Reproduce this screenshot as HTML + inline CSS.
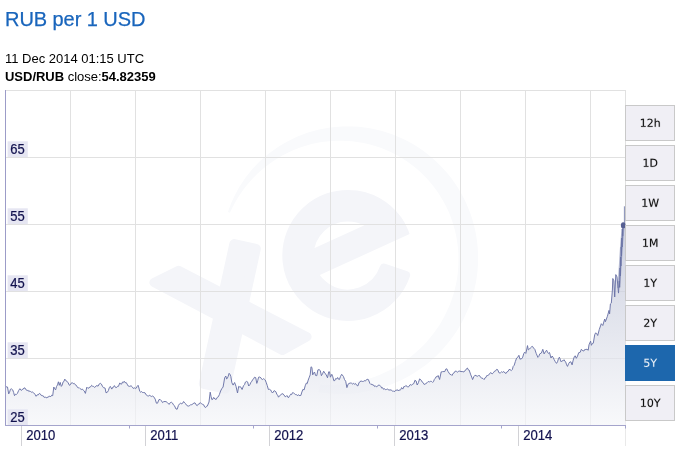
<!DOCTYPE html>
<html><head><meta charset="utf-8">
<style>
html,body{margin:0;padding:0;background:#fff;}
body{width:691px;height:454px;overflow:hidden;position:relative;font-family:"Liberation Sans",sans-serif;}
.t{position:absolute;left:5.4px;top:7px;font-size:20px;line-height:24px;color:#1965bc;white-space:nowrap;letter-spacing:-0.06px;transform:translateY(0.4px);will-change:transform;-webkit-text-stroke:0.25px #1965bc;}
.d{position:absolute;left:5.4px;top:50px;font-size:13px;line-height:16px;color:#000;white-space:nowrap;letter-spacing:-0.01px;transform:translateY(0.65px);will-change:transform;}
.c{position:absolute;left:5.4px;top:68px;font-size:13px;line-height:16px;color:#000;white-space:nowrap;letter-spacing:-0.02px;transform:translateY(0.7px);will-change:transform;}
svg{position:absolute;left:0;top:0;}
.ax{font-family:"Liberation Sans",sans-serif;font-size:13px;fill:#12124e;stroke:#12124e;stroke-width:0.2px;}
</style></head><body>
<div class="t">RUB per 1 USD</div>
<div class="d">11 Dec 2014 01:15 UTC</div>
<div class="c"><b>USD/RUB</b> close:<b>54.82359</b></div>
<svg width="691" height="454" viewBox="0 0 691 454">
<defs>
<linearGradient id="ag" x1="0" y1="225" x2="0" y2="425" gradientUnits="userSpaceOnUse">
<stop offset="0" stop-color="#babfd4"/>
<stop offset="1" stop-color="#f5f6f9"/>
</linearGradient>
</defs>
<defs>
<clipPath id="ec"><circle cx="347.8" cy="255.5" r="65.5"/></clipPath>
</defs>
<g fill="#f4f5f9" stroke="#f4f5f9" stroke-linejoin="round">
<polygon stroke-width="9.0" points="178.6,270.2 307.1,336.8 282.4,350.5 153.9,282.5"/>
<polygon stroke-width="10" points="234.3,244.1 255.8,248.8 225.3,388.5 203.8,383.8"/>
<path d="M406.1 275.1 A61.5 61.5 0 1 1 401.1 224.7 L380.7 236.5 A38 38 0 1 0 383.8 267.6 Z" stroke-width="8"/>
</g>
<g fill="#f4f5f9">
<polygon clip-path="url(#ec)" points="298.3,255.4 412.1,203.6 423.1,227.9 309.4,279.7"/>
</g>
<path fill="#f9fafc" d="M227.9 212.1 L229.7 206.9 L231.8 201.8 L234.1 196.8 L236.6 191.9 L239.3 187.0 L242.3 182.4 L245.4 177.8 L248.8 173.4 L252.4 169.1 L256.2 165.0 L260.1 161.1 L264.3 157.3 L268.6 153.7 L273.1 150.4 L277.7 147.2 L282.5 144.2 L287.4 141.4 L292.4 138.9 L297.5 136.5 L302.8 134.4 L308.1 132.6 L313.6 130.9 L319.1 129.6 L324.6 128.4 L330.2 127.5 L335.9 126.9 L341.6 126.5 L347.3 126.4 L353.0 126.5 L358.7 126.8 L364.4 127.5 L370.0 128.3 L375.6 129.5 L381.2 130.8 L386.7 132.4 L392.1 134.3 L397.4 136.4 L402.7 138.7 L407.8 141.3 L412.8 144.1 L417.7 147.1 L422.5 150.3 L427.1 153.7 L431.6 157.4 L435.9 161.2 L440.0 165.2 L444.0 169.4 L447.8 173.8 L451.4 178.3 L454.7 183.0 L457.9 187.8 L460.9 192.8 L463.6 197.9 L466.1 203.1 L468.4 208.4 L470.5 213.8 L472.3 219.3 L473.9 224.9 L475.2 230.5 L476.3 236.2 L477.1 241.9 L477.7 247.7 L478.0 253.5 L478.1 259.3 L477.9 265.1 L477.5 270.9 L476.8 276.7 L475.9 282.4 L474.7 288.1 L473.3 293.8 L471.7 299.4 L469.8 304.9 L467.6 310.3 L465.2 315.6 L462.6 320.9 L459.8 326.0 L456.8 331.0 L453.5 335.8 L450.0 340.5 L446.3 345.1 L442.5 349.5 L438.4 353.7 L434.2 357.8 L429.8 361.7 L425.2 365.4 L420.4 368.8 L415.6 372.1 L410.5 375.2 L405.4 378.1 L400.1 380.7 L394.7 383.1 L389.2 385.3 L383.6 387.2 L377.9 389.0 L372.1 390.4 L366.3 391.6 L360.5 392.6 L354.5 393.3 L348.6 393.8 L342.6 394.0 L336.6 394.0 L330.6 393.7 L324.7 393.1 L318.7 392.3 L320.1 384.8 L325.9 385.0 L331.5 385.0 L337.2 384.7 L342.8 384.3 L348.3 383.5 L353.7 381.7 L359.1 380.5 L364.4 379.8 L369.7 378.5 L374.9 376.8 L379.9 374.8 L384.8 372.6 L389.6 370.3 L394.3 367.8 L398.9 365.1 L403.3 362.2 L407.6 359.1 L411.7 356.0 L415.7 352.6 L419.6 349.1 L423.3 345.5 L426.8 341.7 L430.1 337.8 L433.3 333.8 L436.3 329.6 L439.2 325.4 L441.8 321.1 L444.3 316.6 L446.5 312.1 L448.6 307.5 L450.5 302.9 L452.2 298.1 L453.7 293.4 L455.0 288.5 L456.1 283.7 L457.0 278.8 L457.7 273.8 L458.1 268.9 L458.4 263.9 L458.5 259.0 L458.4 254.0 L458.1 249.1 L457.5 244.2 L456.8 239.3 L455.9 234.4 L454.7 229.6 L453.4 224.9 L451.9 220.2 L450.2 215.6 L448.3 211.0 L446.2 206.6 L443.9 202.2 L441.4 197.9 L438.8 193.7 L436.0 189.7 L433.0 185.7 L429.9 181.9 L426.6 178.2 L423.1 174.7 L419.5 171.3 L415.8 168.0 L411.9 164.9 L407.9 162.0 L403.7 159.2 L399.5 156.6 L395.1 154.2 L390.7 152.0 L386.1 150.0 L381.4 148.1 L376.7 146.5 L371.9 145.0 L367.0 143.8 L362.1 142.7 L357.1 141.9 L352.1 141.3 L347.0 140.9 L342.0 140.7 L336.9 140.7 L331.8 140.9 L326.7 141.4 L321.6 142.1 L316.6 143.0 L311.6 144.1 L306.6 145.4 L301.7 147.0 L296.8 148.8 L292.0 150.7 L287.3 152.9 L282.7 155.3 L278.2 157.9 L273.8 160.7 L269.5 163.7 L265.3 166.9 L261.3 170.3 L257.4 173.8 L253.6 177.6 L250.0 181.4 L246.6 185.5 L243.3 189.7 L240.3 194.1 L237.4 198.6 L234.7 203.2 L232.2 208.0 L229.9 212.8 Z"/>
<g fill="#e1e1e1">
<rect x="6" y="90" width="620" height="1"/>
<rect x="625" y="91" width="1" height="330"/><rect x="625" y="421" width="1" height="25" fill="#e9e9e9"/>
<rect x="70" y="90" width="1" height="335" />
<rect x="135" y="90" width="1" height="335" />
<rect x="200" y="90" width="1" height="335" />
<rect x="265" y="90" width="1" height="335" />
<rect x="330" y="90" width="1" height="335" />
<rect x="395" y="90" width="1" height="335" />
<rect x="460" y="90" width="1" height="335" />
<rect x="525" y="90" width="1" height="335" />
<rect x="590" y="90" width="1" height="335" />
<rect x="6" y="157" width="619" height="1" />
<rect x="6" y="224" width="619" height="1" />
<rect x="6" y="291" width="619" height="1" />
<rect x="6" y="358" width="619" height="1" />
</g>
<path d="M5.5 385.8 L6.5 387.1 L7.5 387 L8.7 393.9 L9.6 392.2 L10.4 389.3 L11.6 388.9 L12.7 389.9 L13.6 392.4 L14.5 395.7 L15.5 394.2 L16.4 394.5 L17.4 393.4 L18.6 390.6 L19.9 388.7 L21.4 390.5 L22.3 389.3 L23.1 389.3 L24 387.9 L25.1 388.1 L26.1 389.9 L27.2 390.5 L28.1 390.2 L28.9 391.6 L29.8 391 L30.7 391.6 L31.7 392.3 L32.6 392 L33.6 392.8 L34.9 394.2 L36.1 396.3 L37.2 394.8 L38.3 394.9 L39.4 393.4 L40.3 393.9 L41.3 395.5 L42.2 395.7 L43.2 395.8 L44.2 397.4 L45.3 397.1 L46.3 398 L47.2 397 L48 397.6 L48.9 396.2 L49.8 396.3 L50.8 396.6 L51.7 395.2 L52.7 395.7 L53.8 387 L54.7 388.8 L55.6 389.9 L56.5 386.6 L57.5 384.9 L58.4 381.8 L59.3 385.3 L60.2 382.4 L61.3 386.4 L62.2 385.1 L63 382.1 L63.9 381.5 L64.8 379.1 L65.8 380.7 L66.9 381.2 L68.2 382.9 L69.4 385.3 L70.4 384.7 L71.3 383.1 L72.3 382.6 L73.3 383.8 L74.2 383.3 L75.2 384.7 L76.2 385.2 L77.3 387 L78.3 388 L79.2 387.7 L80.2 388.7 L81.2 389.6 L82.1 389 L83.1 389.9 L84.2 390.9 L85.4 393.4 L86.8 387.2 L87.8 388.2 L88.9 388.1 L89.8 386.9 L90.7 386.8 L91.6 385.3 L92.5 386.2 L93.5 386.4 L94.4 387.4 L95.3 387 L96.4 385.6 L98.1 386.1 L99.3 383.9 L100.3 383.3 L101.4 384.1 L102.4 386.2 L103.4 387.6 L105.1 388.1 L106 392.8 L107.4 392.2 L108.4 390.5 L109.3 387.7 L110.3 386.4 L111.8 389.1 L112.7 387.3 L113.5 387.2 L114.4 385.6 L115.7 387.6 L116.6 387.5 L117.5 386.3 L118.4 386.4 L119.8 382.9 L120.7 384.1 L121.6 384.1 L122.5 382 L123.3 382.6 L124.2 381.2 L125.2 382.8 L126.1 382.4 L127.1 384.1 L128.2 386 L129.4 386.4 L131.1 385.8 L132.2 386.8 L133.4 388.5 L134.4 387.8 L135.3 388.5 L136.3 388.1 L137.2 386.3 L138.1 385.3 L138.9 388 L139.8 391.4 L140.7 392.2 L141.6 391.5 L142.4 392.5 L143.3 392.5 L145 392.8 L146.2 394.9 L147.3 395.7 L148.3 396.1 L149.2 395.3 L150.2 395.7 L151.3 396.5 L152.4 396 L153.5 396.5 L155.2 399.1 L156.4 403.2 L157.5 403.2 L159 399.5 L160.4 399.7 L161.4 400.7 L162.5 402.6 L163.8 401.6 L165 401.5 L166.2 401.7 L167.4 402.6 L169.1 404.4 L170.3 402.6 L171.6 402.3 L172.5 403.1 L173.4 404.8 L174.3 405.5 L176 409 L177.2 409.2 L178.4 405.5 L179.6 403.8 L180.7 403.2 L181.8 403.8 L182.7 403.2 L183.6 401.5 L184.8 403.1 L185.9 404.1 L187.2 405.8 L188.4 406.1 L189.4 405.9 L190.5 404.7 L191.7 404.7 L192.8 404.1 L193.9 402.9 L195.1 403 L196.1 404.8 L197.2 405.7 L198.2 404.2 L199.3 404 L200.3 402.6 L201.5 403.8 L202.7 404.4 L203.7 404.8 L204.6 406.9 L205.6 407.6 L206.4 406.3 L207.3 406.1 L209 402 L210.2 392.2 L211.1 396.7 L211.9 399.7 L212.8 399.2 L213.7 397.4 L214.9 399 L216.2 399.4 L217.2 397.4 L218.3 396.8 L219.4 394.5 L220.6 391 L221.8 388.7 L223.1 387 L224.7 377.7 L225.8 376 L226.6 378.9 L227.1 378.7 L228.1 376.6 L229.1 373.3 L229.9 374.2 L230.8 376.4 L231.9 382.8 L233.1 385.1 L234.6 382.5 L236 386.3 L237.5 393 L238.7 386.3 L239.6 386.9 L240.6 386.8 L242.1 389.5 L243.5 385.7 L244.5 384.7 L245.4 382.1 L246.4 381.4 L247.6 381.9 L248.7 386 L249.8 384.8 L251 382.2 L251.9 381.2 L252.8 379.4 L253.6 378.9 L254.5 377.2 L255.7 377.6 L256.8 383.4 L257.7 380.7 L258.6 377.2 L259.8 377 L260.9 377.8 L261.8 379.3 L262.6 379.5 L263.5 378.7 L264.4 379.3 L265.2 380 L266.1 382.2 L267.2 385.4 L268.4 389.5 L269.5 389.3 L270.7 390 L271.6 391.8 L272.5 393 L274.2 390.6 L275.9 391.8 L276.8 394.2 L277.6 395.1 L278.5 397.2 L279.6 395.7 L280.6 395.2 L281.7 393.8 L282.9 393.8 L284 394.9 L284.9 396.5 L285.8 396.7 L286.9 395.5 L288.4 397.8 L289.8 395.5 L290.7 394.2 L291.6 394.6 L292.4 392.8 L293.3 392.6 L294.5 393.9 L295.6 394.6 L296.5 394.6 L297.4 395.7 L298.2 394.7 L299.1 395.5 L300.8 395.5 L301.9 392 L302.9 389.4 L304.1 389.9 L305.2 385.8 L306.4 383 L307.2 383.6 L308.2 380.1 L309.3 377.2 L310.2 374.9 L311 366.8 L311.9 367.4 L312.7 374.9 L313.6 373.1 L314.5 372 L315.6 375.5 L316.8 375.7 L317.9 369.9 L319.1 369.6 L320.3 370.6 L321.4 375.7 L322.5 373.8 L323.7 371.2 L324.9 373.4 L326 374.3 L327.5 377.8 L328.7 371.8 L329.5 371.8 L330.4 377.2 L331.8 374.3 L332.8 376.8 L333.8 380.7 L334.8 380.6 L335.7 378.5 L336.7 379 L337.6 377.5 L338.5 379.2 L339.4 379.5 L340.5 376.4 L341.7 374.3 L343.4 376.4 L344.5 379.5 L345.7 381.3 L346.9 387.6 L347.8 385 L348.6 383.6 L350.3 383 L351.5 383.2 L352.7 384.1 L353.7 383.4 L354.6 384.2 L355.6 383.6 L356.8 385.4 L357.9 385.9 L358.9 383 L360 381.5 L361.2 381.1 L362.5 381.5 L363.4 381.5 L364.2 380.6 L365.1 381.1 L366 380.3 L367.1 379.3 L368.3 379.5 L370 383.6 L371 384.6 L371.9 384 L372.9 385.3 L373.8 385.1 L374.6 386.5 L375.5 385.9 L376.4 386.8 L377.4 386.4 L378.5 385 L379.6 385.2 L380.8 386.5 L381.8 388.2 L382.7 387.7 L383.7 389.4 L384.7 388.7 L385.6 389.7 L386.6 389.4 L387.7 389.1 L388.9 390.1 L390 389.9 L391.2 390 L392.4 391.1 L393.4 390.9 L394.4 391.9 L395.4 390.4 L396.4 390.3 L397.3 389.6 L398.1 390.9 L399 389.9 L399.9 390.3 L400.8 389.6 L401.6 387.6 L402.8 389.1 L403.9 386.5 L404.9 386.7 L405.8 385.5 L406.8 386.1 L407.7 387.1 L408.6 386.8 L410.3 384.5 L411.5 385.3 L412.6 384.1 L413.8 383.6 L414.9 380.3 L416.1 381 L417.2 385 L418.4 382.7 L419.6 378.9 L421.3 380.3 L422.3 382.2 L423.2 382.7 L424.2 384.5 L425.9 383.6 L427 382.8 L428.2 381.5 L429.4 381.9 L430.6 381.3 L431.6 381.4 L432.6 382.4 L433.5 381.6 L434.3 379.5 L435.2 378.4 L436.2 376.7 L437.1 376.8 L438.1 375.5 L439.6 379.5 L441.2 371.8 L442.1 372.1 L443 371.2 L443.9 371.8 L444.9 371.4 L445.8 369.1 L446.8 368.8 L448 371.4 L449.1 373.1 L450.1 374.5 L451 374.4 L452 375.5 L453.1 373.4 L454.1 372.9 L455.2 371.1 L456.4 371.3 L457.5 372.3 L458.6 371.1 L459.8 371.1 L461 371.6 L462.2 371.5 L463.9 372 L464.8 370.6 L465.6 370.3 L466.5 368.7 L467.4 368 L468.2 369.7 L469.1 370 L470.8 374.9 L471.7 377 L472.6 379.6 L473.8 376.7 L474.9 375.3 L476 375.5 L477.2 376.4 L478.4 375.6 L479.5 375.5 L480.6 377.4 L481.8 378.1 L483 378.5 L484.1 379.6 L485 377.8 L485.9 377.5 L486.8 375.5 L487.8 375.5 L488.8 374.9 L490.5 372.6 L492.2 373.8 L493.4 372.8 L494.6 371.1 L495.6 370.9 L496.5 369.4 L497.5 369.5 L499.2 373 L500.4 372.9 L501.5 371.8 L502.6 372.4 L503.8 371.5 L505 373 L506.1 373.4 L507.1 371.7 L508 371.5 L509 369.5 L510.1 369.6 L511.3 370.6 L512.3 369.6 L513.2 366.4 L514.2 365.3 L515.4 361.4 L516.6 358.1 L517.8 357.2 L518.9 355.3 L520 359.3 L520.9 358.7 L521.8 358.7 L522.7 357.2 L523.7 353.8 L524.6 352.2 L525.8 353.4 L526.6 350 L527.5 345.6 L528.3 349.9 L529.3 349.2 L530.4 347.9 L531.5 346.8 L532.5 346.4 L533.6 348.1 L534.8 349.3 L536.2 353.4 L537.9 357.4 L538.8 356.4 L539.7 353.9 L541.4 353 L542.8 349.3 L544.1 353.9 L545.4 351.8 L546.6 350.2 L547.5 352.2 L548.4 353.4 L549.5 352.5 L551 358 L552.2 356 L553.2 357.5 L554.1 359.5 L555.3 361.7 L556.5 363.4 L557.5 361.8 L558.4 358.9 L559.4 357.2 L560.2 359.2 L561.1 361.8 L562.1 360.8 L563 360.9 L564 359.7 L564.9 361.1 L565.7 362 L566.6 364.8 L567.5 366.4 L568.6 363.7 L569.8 362 L570.9 361.8 L572.1 364.9 L573.2 360.1 L574.4 356.5 L575.2 355.8 L576.3 358.3 L577.5 356.1 L578.7 352.7 L580.3 352.2 L581.3 349.3 L582.9 350.8 L583.9 351 L584.8 349.4 L585.8 349.5 L587 349.2 L588.2 350.3 L589 344.8 L590.6 341.1 L591.4 345.3 L592.3 343.5 L593.3 343.2 L594.7 334.8 L595.6 332.9 L596.7 333.5 L597.7 335.5 L599.3 329.4 L601.3 323.7 L602.8 325.5 L604.7 319 L605.4 321.7 L607.4 316.3 L609 310.4 L609.6 313.9 L610.4 303.9 L611.3 303.1 L612.4 290 L612.8 278.5 L613.9 280.8 L614.7 297 L615.8 274.6 L617 276.9 L618.5 293.1 L619.3 281 L619.6 287 L620 268 L620.3 276 L620.6 257 L620.9 266 L621.2 247 L621.5 256 L621.8 238 L622.1 247 L622.4 229 L622.7 236 L623 225 L624.9 225 L625.5 225 L625.5 425.5 L5.5 425.5 Z" fill="url(#ag)" fill-opacity="0.7"/>
<rect x="7.6" y="141.3" width="20.2" height="15.7" fill="#e6e6f2"/>
<text transform="translate(10.3 153.7) scale(1 1.07)" class="ax">65</text>
<rect x="7.6" y="208.3" width="20.2" height="15.7" fill="#e6e6f2"/>
<text transform="translate(10.3 220.7) scale(1 1.07)" class="ax">55</text>
<rect x="7.6" y="275.3" width="20.2" height="15.7" fill="#e6e6f2"/>
<text transform="translate(10.3 287.7) scale(1 1.07)" class="ax">45</text>
<rect x="7.6" y="342.3" width="20.2" height="15.7" fill="#e6e6f2"/>
<text transform="translate(10.3 354.7) scale(1 1.07)" class="ax">35</text>
<rect x="7.6" y="409.3" width="20.2" height="15.7" fill="#e6e6f2"/>
<text transform="translate(10.3 421.7) scale(1 1.07)" class="ax">25</text>
<path d="M5.5 385.8 L6.5 387.1 L7.5 387 L8.7 393.9 L9.6 392.2 L10.4 389.3 L11.6 388.9 L12.7 389.9 L13.6 392.4 L14.5 395.7 L15.5 394.2 L16.4 394.5 L17.4 393.4 L18.6 390.6 L19.9 388.7 L21.4 390.5 L22.3 389.3 L23.1 389.3 L24 387.9 L25.1 388.1 L26.1 389.9 L27.2 390.5 L28.1 390.2 L28.9 391.6 L29.8 391 L30.7 391.6 L31.7 392.3 L32.6 392 L33.6 392.8 L34.9 394.2 L36.1 396.3 L37.2 394.8 L38.3 394.9 L39.4 393.4 L40.3 393.9 L41.3 395.5 L42.2 395.7 L43.2 395.8 L44.2 397.4 L45.3 397.1 L46.3 398 L47.2 397 L48 397.6 L48.9 396.2 L49.8 396.3 L50.8 396.6 L51.7 395.2 L52.7 395.7 L53.8 387 L54.7 388.8 L55.6 389.9 L56.5 386.6 L57.5 384.9 L58.4 381.8 L59.3 385.3 L60.2 382.4 L61.3 386.4 L62.2 385.1 L63 382.1 L63.9 381.5 L64.8 379.1 L65.8 380.7 L66.9 381.2 L68.2 382.9 L69.4 385.3 L70.4 384.7 L71.3 383.1 L72.3 382.6 L73.3 383.8 L74.2 383.3 L75.2 384.7 L76.2 385.2 L77.3 387 L78.3 388 L79.2 387.7 L80.2 388.7 L81.2 389.6 L82.1 389 L83.1 389.9 L84.2 390.9 L85.4 393.4 L86.8 387.2 L87.8 388.2 L88.9 388.1 L89.8 386.9 L90.7 386.8 L91.6 385.3 L92.5 386.2 L93.5 386.4 L94.4 387.4 L95.3 387 L96.4 385.6 L98.1 386.1 L99.3 383.9 L100.3 383.3 L101.4 384.1 L102.4 386.2 L103.4 387.6 L105.1 388.1 L106 392.8 L107.4 392.2 L108.4 390.5 L109.3 387.7 L110.3 386.4 L111.8 389.1 L112.7 387.3 L113.5 387.2 L114.4 385.6 L115.7 387.6 L116.6 387.5 L117.5 386.3 L118.4 386.4 L119.8 382.9 L120.7 384.1 L121.6 384.1 L122.5 382 L123.3 382.6 L124.2 381.2 L125.2 382.8 L126.1 382.4 L127.1 384.1 L128.2 386 L129.4 386.4 L131.1 385.8 L132.2 386.8 L133.4 388.5 L134.4 387.8 L135.3 388.5 L136.3 388.1 L137.2 386.3 L138.1 385.3 L138.9 388 L139.8 391.4 L140.7 392.2 L141.6 391.5 L142.4 392.5 L143.3 392.5 L145 392.8 L146.2 394.9 L147.3 395.7 L148.3 396.1 L149.2 395.3 L150.2 395.7 L151.3 396.5 L152.4 396 L153.5 396.5 L155.2 399.1 L156.4 403.2 L157.5 403.2 L159 399.5 L160.4 399.7 L161.4 400.7 L162.5 402.6 L163.8 401.6 L165 401.5 L166.2 401.7 L167.4 402.6 L169.1 404.4 L170.3 402.6 L171.6 402.3 L172.5 403.1 L173.4 404.8 L174.3 405.5 L176 409 L177.2 409.2 L178.4 405.5 L179.6 403.8 L180.7 403.2 L181.8 403.8 L182.7 403.2 L183.6 401.5 L184.8 403.1 L185.9 404.1 L187.2 405.8 L188.4 406.1 L189.4 405.9 L190.5 404.7 L191.7 404.7 L192.8 404.1 L193.9 402.9 L195.1 403 L196.1 404.8 L197.2 405.7 L198.2 404.2 L199.3 404 L200.3 402.6 L201.5 403.8 L202.7 404.4 L203.7 404.8 L204.6 406.9 L205.6 407.6 L206.4 406.3 L207.3 406.1 L209 402 L210.2 392.2 L211.1 396.7 L211.9 399.7 L212.8 399.2 L213.7 397.4 L214.9 399 L216.2 399.4 L217.2 397.4 L218.3 396.8 L219.4 394.5 L220.6 391 L221.8 388.7 L223.1 387 L224.7 377.7 L225.8 376 L226.6 378.9 L227.1 378.7 L228.1 376.6 L229.1 373.3 L229.9 374.2 L230.8 376.4 L231.9 382.8 L233.1 385.1 L234.6 382.5 L236 386.3 L237.5 393 L238.7 386.3 L239.6 386.9 L240.6 386.8 L242.1 389.5 L243.5 385.7 L244.5 384.7 L245.4 382.1 L246.4 381.4 L247.6 381.9 L248.7 386 L249.8 384.8 L251 382.2 L251.9 381.2 L252.8 379.4 L253.6 378.9 L254.5 377.2 L255.7 377.6 L256.8 383.4 L257.7 380.7 L258.6 377.2 L259.8 377 L260.9 377.8 L261.8 379.3 L262.6 379.5 L263.5 378.7 L264.4 379.3 L265.2 380 L266.1 382.2 L267.2 385.4 L268.4 389.5 L269.5 389.3 L270.7 390 L271.6 391.8 L272.5 393 L274.2 390.6 L275.9 391.8 L276.8 394.2 L277.6 395.1 L278.5 397.2 L279.6 395.7 L280.6 395.2 L281.7 393.8 L282.9 393.8 L284 394.9 L284.9 396.5 L285.8 396.7 L286.9 395.5 L288.4 397.8 L289.8 395.5 L290.7 394.2 L291.6 394.6 L292.4 392.8 L293.3 392.6 L294.5 393.9 L295.6 394.6 L296.5 394.6 L297.4 395.7 L298.2 394.7 L299.1 395.5 L300.8 395.5 L301.9 392 L302.9 389.4 L304.1 389.9 L305.2 385.8 L306.4 383 L307.2 383.6 L308.2 380.1 L309.3 377.2 L310.2 374.9 L311 366.8 L311.9 367.4 L312.7 374.9 L313.6 373.1 L314.5 372 L315.6 375.5 L316.8 375.7 L317.9 369.9 L319.1 369.6 L320.3 370.6 L321.4 375.7 L322.5 373.8 L323.7 371.2 L324.9 373.4 L326 374.3 L327.5 377.8 L328.7 371.8 L329.5 371.8 L330.4 377.2 L331.8 374.3 L332.8 376.8 L333.8 380.7 L334.8 380.6 L335.7 378.5 L336.7 379 L337.6 377.5 L338.5 379.2 L339.4 379.5 L340.5 376.4 L341.7 374.3 L343.4 376.4 L344.5 379.5 L345.7 381.3 L346.9 387.6 L347.8 385 L348.6 383.6 L350.3 383 L351.5 383.2 L352.7 384.1 L353.7 383.4 L354.6 384.2 L355.6 383.6 L356.8 385.4 L357.9 385.9 L358.9 383 L360 381.5 L361.2 381.1 L362.5 381.5 L363.4 381.5 L364.2 380.6 L365.1 381.1 L366 380.3 L367.1 379.3 L368.3 379.5 L370 383.6 L371 384.6 L371.9 384 L372.9 385.3 L373.8 385.1 L374.6 386.5 L375.5 385.9 L376.4 386.8 L377.4 386.4 L378.5 385 L379.6 385.2 L380.8 386.5 L381.8 388.2 L382.7 387.7 L383.7 389.4 L384.7 388.7 L385.6 389.7 L386.6 389.4 L387.7 389.1 L388.9 390.1 L390 389.9 L391.2 390 L392.4 391.1 L393.4 390.9 L394.4 391.9 L395.4 390.4 L396.4 390.3 L397.3 389.6 L398.1 390.9 L399 389.9 L399.9 390.3 L400.8 389.6 L401.6 387.6 L402.8 389.1 L403.9 386.5 L404.9 386.7 L405.8 385.5 L406.8 386.1 L407.7 387.1 L408.6 386.8 L410.3 384.5 L411.5 385.3 L412.6 384.1 L413.8 383.6 L414.9 380.3 L416.1 381 L417.2 385 L418.4 382.7 L419.6 378.9 L421.3 380.3 L422.3 382.2 L423.2 382.7 L424.2 384.5 L425.9 383.6 L427 382.8 L428.2 381.5 L429.4 381.9 L430.6 381.3 L431.6 381.4 L432.6 382.4 L433.5 381.6 L434.3 379.5 L435.2 378.4 L436.2 376.7 L437.1 376.8 L438.1 375.5 L439.6 379.5 L441.2 371.8 L442.1 372.1 L443 371.2 L443.9 371.8 L444.9 371.4 L445.8 369.1 L446.8 368.8 L448 371.4 L449.1 373.1 L450.1 374.5 L451 374.4 L452 375.5 L453.1 373.4 L454.1 372.9 L455.2 371.1 L456.4 371.3 L457.5 372.3 L458.6 371.1 L459.8 371.1 L461 371.6 L462.2 371.5 L463.9 372 L464.8 370.6 L465.6 370.3 L466.5 368.7 L467.4 368 L468.2 369.7 L469.1 370 L470.8 374.9 L471.7 377 L472.6 379.6 L473.8 376.7 L474.9 375.3 L476 375.5 L477.2 376.4 L478.4 375.6 L479.5 375.5 L480.6 377.4 L481.8 378.1 L483 378.5 L484.1 379.6 L485 377.8 L485.9 377.5 L486.8 375.5 L487.8 375.5 L488.8 374.9 L490.5 372.6 L492.2 373.8 L493.4 372.8 L494.6 371.1 L495.6 370.9 L496.5 369.4 L497.5 369.5 L499.2 373 L500.4 372.9 L501.5 371.8 L502.6 372.4 L503.8 371.5 L505 373 L506.1 373.4 L507.1 371.7 L508 371.5 L509 369.5 L510.1 369.6 L511.3 370.6 L512.3 369.6 L513.2 366.4 L514.2 365.3 L515.4 361.4 L516.6 358.1 L517.8 357.2 L518.9 355.3 L520 359.3 L520.9 358.7 L521.8 358.7 L522.7 357.2 L523.7 353.8 L524.6 352.2 L525.8 353.4 L526.6 350 L527.5 345.6 L528.3 349.9 L529.3 349.2 L530.4 347.9 L531.5 346.8 L532.5 346.4 L533.6 348.1 L534.8 349.3 L536.2 353.4 L537.9 357.4 L538.8 356.4 L539.7 353.9 L541.4 353 L542.8 349.3 L544.1 353.9 L545.4 351.8 L546.6 350.2 L547.5 352.2 L548.4 353.4 L549.5 352.5 L551 358 L552.2 356 L553.2 357.5 L554.1 359.5 L555.3 361.7 L556.5 363.4 L557.5 361.8 L558.4 358.9 L559.4 357.2 L560.2 359.2 L561.1 361.8 L562.1 360.8 L563 360.9 L564 359.7 L564.9 361.1 L565.7 362 L566.6 364.8 L567.5 366.4 L568.6 363.7 L569.8 362 L570.9 361.8 L572.1 364.9 L573.2 360.1 L574.4 356.5 L575.2 355.8 L576.3 358.3 L577.5 356.1 L578.7 352.7 L580.3 352.2 L581.3 349.3 L582.9 350.8 L583.9 351 L584.8 349.4 L585.8 349.5 L587 349.2 L588.2 350.3 L589 344.8 L590.6 341.1 L591.4 345.3 L592.3 343.5 L593.3 343.2 L594.7 334.8 L595.6 332.9 L596.7 333.5 L597.7 335.5 L599.3 329.4 L601.3 323.7 L602.8 325.5 L604.7 319 L605.4 321.7 L607.4 316.3 L609 310.4 L609.6 313.9 L610.4 303.9 L611.3 303.1 L612.4 290 L612.8 278.5 L613.9 280.8 L614.7 297 L615.8 274.6 L617 276.9 L618.5 293.1 L619.3 281 L619.6 287 L620 268 L620.3 276 L620.6 257 L620.9 266 L621.2 247 L621.5 256 L621.8 238 L622.1 247 L622.4 229 L622.7 236 L623 225 L624.9 225" fill="none" stroke="#6a73a6" stroke-width="0.95" stroke-linejoin="round"/>
<path d="M618.8 288 L620.1 268 L621.4 247 L622.9 229" fill="none" stroke="#6a73a6" stroke-width="2.8" stroke-opacity="0.5"/>
<path d="M624.4 224 L624.4 206.3" fill="none" stroke="#6a73a6" stroke-width="0.9" stroke-opacity="0.9"/>
<ellipse cx="623.2" cy="225.4" rx="2.3" ry="3.1" fill="#565f92"/>
<rect x="5" y="90" width="1" height="336" fill="#9c9cc8"/>
<rect x="5" y="425" width="621" height="1" fill="#a4a4cc"/>
<rect x="21" y="426" width="1" height="20" fill="#d2d2d6"/>
<text transform="translate(26.2 439.7) scale(1.01 1.07)" class="ax">2010</text>
<rect x="145" y="426" width="1" height="20" fill="#d2d2d6"/>
<text transform="translate(150.2 439.7) scale(1.01 1.07)" class="ax">2011</text>
<rect x="269" y="426" width="1" height="20" fill="#d2d2d6"/>
<text transform="translate(274.2 439.7) scale(1.01 1.07)" class="ax">2012</text>
<rect x="394" y="426" width="1" height="20" fill="#d2d2d6"/>
<text transform="translate(399.2 439.7) scale(1.01 1.07)" class="ax">2013</text>
<rect x="518" y="426" width="1" height="20" fill="#d2d2d6"/>
<text transform="translate(523.2 439.7) scale(1.01 1.07)" class="ax">2014</text>
<rect x="129" y="426" width="1" height="2.5" fill="#a4a4cc"/>
<rect x="253" y="426" width="1" height="2.5" fill="#a4a4cc"/>
<rect x="377" y="426" width="1" height="2.5" fill="#a4a4cc"/>
<rect x="501" y="426" width="1" height="2.5" fill="#a4a4cc"/>
<rect x="625" y="425" width="1" height="3.5" fill="#a4a4cc"/>
<rect x="625.5" y="105.5" width="49" height="35" fill="#f0eff5" stroke="#c9c9c9" stroke-width="1"/>
<g fill="#111111" stroke="#111111" stroke-width="30" transform="translate(639.72 126.8) scale(0.005371 -0.005371)"><path transform="translate(0)" d="M254 170H584V1309L225 1237V1421L582 1493H784V170H1114V0H254Z"/><path transform="translate(1303)" d="M393 170H1098V0H150V170Q265 289 463.5 489.5Q662 690 713 748Q810 857 848.5 932.5Q887 1008 887 1081Q887 1200 803.5 1275.0Q720 1350 586 1350Q491 1350 385.5 1317.0Q280 1284 160 1217V1421Q282 1470 388.0 1495.0Q494 1520 582 1520Q814 1520 952.0 1404.0Q1090 1288 1090 1094Q1090 1002 1055.5 919.5Q1021 837 930 725Q905 696 771.0 557.5Q637 419 393 170Z"/><path transform="translate(2606)" d="M1124 676V0H940V670Q940 829 878.0 908.0Q816 987 692 987Q543 987 457.0 892.0Q371 797 371 633V0H186V1556H371V946Q437 1047 526.5 1097.0Q616 1147 733 1147Q926 1147 1025.0 1027.5Q1124 908 1124 676Z"/></g>
<rect x="625.5" y="145.5" width="49" height="35" fill="#f0eff5" stroke="#c9c9c9" stroke-width="1"/>
<g fill="#111111" stroke="#111111" stroke-width="30" transform="translate(642.47 166.8) scale(0.005371 -0.005371)"><path transform="translate(0)" d="M254 170H584V1309L225 1237V1421L582 1493H784V170H1114V0H254Z"/><path transform="translate(1303)" d="M403 1327V166H647Q956 166 1099.5 306.0Q1243 446 1243 748Q1243 1048 1099.5 1187.5Q956 1327 647 1327ZM201 1493H616Q1050 1493 1253.0 1312.5Q1456 1132 1456 748Q1456 362 1252.0 181.0Q1048 0 616 0H201Z"/></g>
<rect x="625.5" y="185.5" width="49" height="35" fill="#f0eff5" stroke="#c9c9c9" stroke-width="1"/>
<g fill="#111111" stroke="#111111" stroke-width="30" transform="translate(641.26 206.8) scale(0.005371 -0.005371)"><path transform="translate(0)" d="M254 170H584V1309L225 1237V1421L582 1493H784V170H1114V0H254Z"/><path transform="translate(1303)" d="M68 1493H272L586 231L899 1493H1126L1440 231L1753 1493H1958L1583 0H1329L1014 1296L696 0H442Z"/></g>
<rect x="625.5" y="225.5" width="49" height="35" fill="#f0eff5" stroke="#c9c9c9" stroke-width="1"/>
<g fill="#111111" stroke="#111111" stroke-width="30" transform="translate(641.96 246.8) scale(0.005371 -0.005371)"><path transform="translate(0)" d="M254 170H584V1309L225 1237V1421L582 1493H784V170H1114V0H254Z"/><path transform="translate(1303)" d="M201 1493H502L883 477L1266 1493H1567V0H1370V1311L985 287H782L397 1311V0H201Z"/></g>
<rect x="625.5" y="265.5" width="49" height="35" fill="#f0eff5" stroke="#c9c9c9" stroke-width="1"/>
<g fill="#111111" stroke="#111111" stroke-width="30" transform="translate(643.34 286.8) scale(0.005371 -0.005371)"><path transform="translate(0)" d="M254 170H584V1309L225 1237V1421L582 1493H784V170H1114V0H254Z"/><path transform="translate(1303)" d="M-4 1493H213L627 879L1038 1493H1255L727 711V0H524V711Z"/></g>
<rect x="625.5" y="305.5" width="49" height="35" fill="#f0eff5" stroke="#c9c9c9" stroke-width="1"/>
<g fill="#111111" stroke="#111111" stroke-width="30" transform="translate(643.34 326.8) scale(0.005371 -0.005371)"><path transform="translate(0)" d="M393 170H1098V0H150V170Q265 289 463.5 489.5Q662 690 713 748Q810 857 848.5 932.5Q887 1008 887 1081Q887 1200 803.5 1275.0Q720 1350 586 1350Q491 1350 385.5 1317.0Q280 1284 160 1217V1421Q282 1470 388.0 1495.0Q494 1520 582 1520Q814 1520 952.0 1404.0Q1090 1288 1090 1094Q1090 1002 1055.5 919.5Q1021 837 930 725Q905 696 771.0 557.5Q637 419 393 170Z"/><path transform="translate(1303)" d="M-4 1493H213L627 879L1038 1493H1255L727 711V0H524V711Z"/></g>
<rect x="625.5" y="345.5" width="49" height="35" fill="#1d67ad" stroke="#1d67ad" stroke-width="1"/>
<g fill="#eef3f9" stroke="#eef3f9" stroke-width="30" transform="translate(643.34 366.8) scale(0.005371 -0.005371)"><path transform="translate(0)" d="M221 1493H1014V1323H406V957Q450 972 494.0 979.5Q538 987 582 987Q832 987 978.0 850.0Q1124 713 1124 479Q1124 238 974.0 104.5Q824 -29 551 -29Q457 -29 359.5 -13.0Q262 3 158 35V238Q248 189 344.0 165.0Q440 141 547 141Q720 141 821.0 232.0Q922 323 922 479Q922 635 821.0 726.0Q720 817 547 817Q466 817 385.5 799.0Q305 781 221 743Z"/><path transform="translate(1303)" d="M-4 1493H213L627 879L1038 1493H1255L727 711V0H524V711Z"/></g>
<rect x="625.5" y="385.5" width="49" height="35" fill="#f0eff5" stroke="#c9c9c9" stroke-width="1"/>
<g fill="#111111" stroke="#111111" stroke-width="30" transform="translate(639.84 406.8) scale(0.005371 -0.005371)"><path transform="translate(0)" d="M254 170H584V1309L225 1237V1421L582 1493H784V170H1114V0H254Z"/><path transform="translate(1303)" d="M651 1360Q495 1360 416.5 1206.5Q338 1053 338 745Q338 438 416.5 284.5Q495 131 651 131Q808 131 886.5 284.5Q965 438 965 745Q965 1053 886.5 1206.5Q808 1360 651 1360ZM651 1520Q902 1520 1034.5 1321.5Q1167 1123 1167 745Q1167 368 1034.5 169.5Q902 -29 651 -29Q400 -29 267.5 169.5Q135 368 135 745Q135 1123 267.5 1321.5Q400 1520 651 1520Z"/><path transform="translate(2606)" d="M-4 1493H213L627 879L1038 1493H1255L727 711V0H524V711Z"/></g>
</svg>
</body></html>
